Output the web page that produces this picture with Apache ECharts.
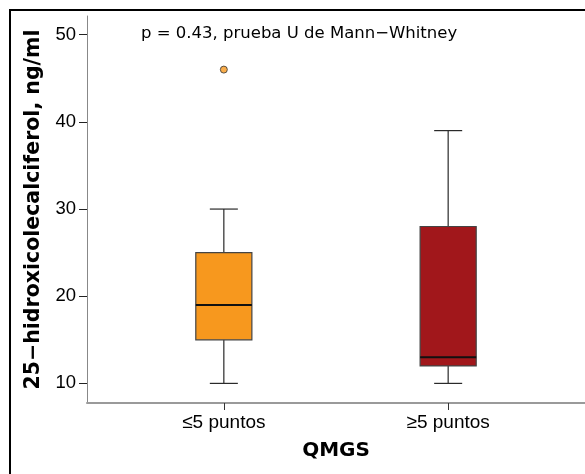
<!DOCTYPE html>
<html>
<head>
<meta charset="utf-8">
<script src="https://cdn.jsdelivr.net/npm/echarts@6/dist/echarts.min.js"></script>
<style>html,body{margin:0;padding:0;background:#fff}#c{width:585px;height:474px}</style>
</head>
<body>
<div id="c"></div>
<script>
const categories = ['≤5 puntos', '≥5 puntos'];
const positions = [1, 2];
// [lower whisker, Q1, median, Q3, upper whisker]
const boxStats = [
  [10, 15, 19, 25, 30],
  [10, 12, 13, 28, 39]
];
const outliers = [[1, 46]];
const yTicks = [10, 20, 30, 40, 50];
const boxColors = ['#F7981E', '#A1171B'];
const annotation = 'p = 0.43, prueba U de Mann\u2212Whitney';
const yTitle = '25\u2212hidroxicolecalciferol, ng/ml';
const xTitle = 'QMGS';

const boxData = boxStats.map((s, i) => [positions[i]].concat(s));

const chart = echarts.init(document.getElementById('c'), null, {renderer: 'canvas'});
chart.setOption({
  animation: false,
  title: {
    text: annotation,
    left: 136, top: 20,
    textStyle: {fontFamily: 'DejaVu Sans', fontSize: 16.5, fontWeight: 'normal', color: '#000'}
  },
  graphic: [{
    type: 'rect', z: 100,
    shape: {x: 10, y: 10, width: 640, height: 540},
    style: {fill: 'none', stroke: '#000', lineWidth: 2}
  }],
  grid: {left: 87, top: 16, width: 499.5, height: 387, containLabel: false},
  xAxis: {
    type: 'value', min: 0.39, max: 2.61,
    name: xTitle, nameLocation: 'middle', nameGap: 38,
    nameTextStyle: {fontFamily: 'DejaVu Sans', fontSize: 20, fontWeight: 'bold', color: '#000'},
    axisLine: {show: true, onZero: false, lineStyle: {color: '#9a9a9a', width: 2}},
    axisTick: {show: true, customValues: positions, length: 7, lineStyle: {color: '#333', width: 1}},
    axisLabel: {
      customValues: positions, margin: 10,
      formatter: v => categories[positions.indexOf(Math.round(v))] || '',
      fontFamily: 'Liberation Sans', fontSize: 19, color: '#000'
    },
    splitLine: {show: false}
  },
  yAxis: {
    type: 'value', min: 7.75, max: 52.15,
    name: yTitle, nameLocation: 'middle', nameGap: 41,
    nameTextStyle: {fontFamily: 'DejaVu Sans', fontSize: 20.5, fontWeight: 'bold', color: '#000'},
    axisLine: {show: true, onZero: false, lineStyle: {color: '#888', width: 1}},
    axisTick: {show: true, customValues: yTicks, length: 8, lineStyle: {color: '#222', width: 1}},
    axisLabel: {
      customValues: yTicks, margin: 11,
      fontFamily: 'Liberation Sans', fontSize: 18.5, color: '#000'
    },
    splitLine: {show: false}
  },
  series: [
    {
      type: 'custom',
      data: boxData,
      encode: {x: 0, y: [1, 2, 3, 4, 5]},
      renderItem: function (params, api) {
        const x = api.value(0);
        const lo = api.coord([x, api.value(1)]);
        const q1 = api.coord([x, api.value(2)]);
        const md = api.coord([x, api.value(3)]);
        const q3 = api.coord([x, api.value(4)]);
        const hi = api.coord([x, api.value(5)]);
        const bw = api.size([0.25, 0])[0];
        const cw = bw / 2;
        const cx = lo[0];
        const stroke = '#2a2a2a';
        return {
          type: 'group',
          children: [
            {type: 'line', shape: {x1: cx, y1: hi[1], x2: cx, y2: q3[1]}, style: {stroke: stroke, lineWidth: 1.2}},
            {type: 'line', shape: {x1: cx, y1: q1[1], x2: cx, y2: lo[1]}, style: {stroke: stroke, lineWidth: 1.2}},
            {type: 'line', shape: {x1: cx - cw / 2, y1: hi[1], x2: cx + cw / 2, y2: hi[1]}, style: {stroke: stroke, lineWidth: 1.2}},
            {type: 'line', shape: {x1: cx - cw / 2, y1: lo[1], x2: cx + cw / 2, y2: lo[1]}, style: {stroke: stroke, lineWidth: 1.2}},
            {type: 'rect', shape: {x: cx - bw / 2, y: q3[1], width: bw, height: q1[1] - q3[1]},
             style: {fill: boxColors[params.dataIndex], stroke: '#444', lineWidth: 1.2}},
            {type: 'line', shape: {x1: cx - bw / 2, y1: md[1], x2: cx + bw / 2, y2: md[1]}, style: {stroke: '#111', lineWidth: 2}}
          ]
        };
      }
    },
    {
      type: 'scatter',
      data: outliers,
      symbol: 'circle', symbolSize: 7,
      itemStyle: {color: '#F7981E', borderColor: '#333', borderWidth: 1}
    }
  ]
});
</script>
</body>
</html>
